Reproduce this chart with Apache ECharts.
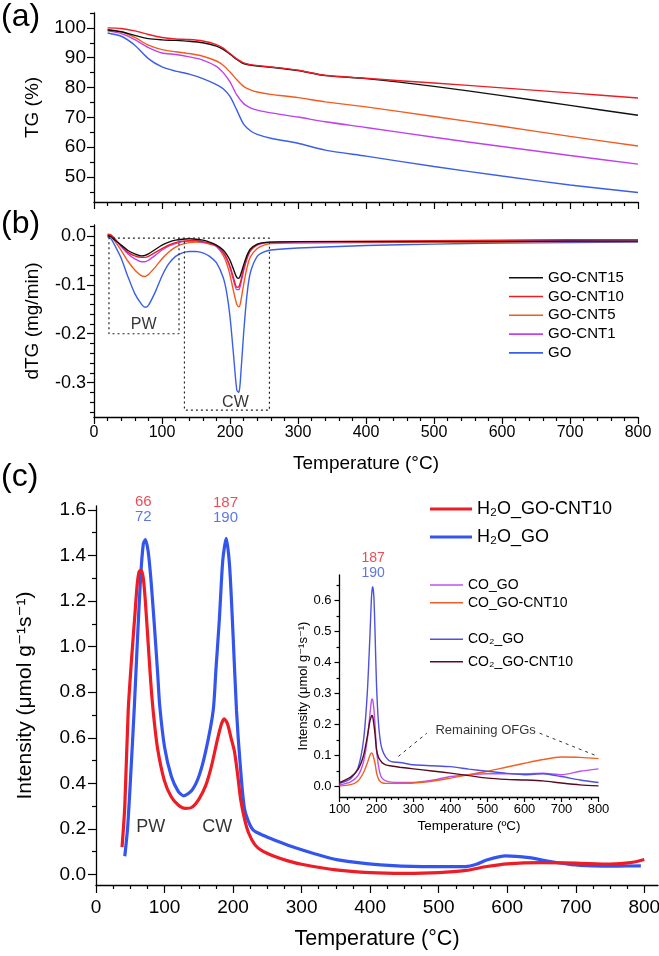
<!DOCTYPE html>
<html><head><meta charset="utf-8">
<script src="https://cdn.jsdelivr.net/npm/echarts@6/dist/echarts.min.js"></script>
<style>html,body{margin:0;padding:0;background:#fff}#c{width:659px;height:956px}</style>
</head><body><div id="c"></div><script>
const FONT = "'Liberation Sans', Arial, 'DejaVu Sans', sans-serif";

// ---------- Panel (a): TG (%) ----------
const tgT      = [20,40,60,80,100,120,140,160,180,190,200,210,220,230,240,260,300,340,400,500,600,700,800];
const tgCNT15  = [99.3,98.7,97.5,96.4,96.0,95.8,95.5,95.0,93.9,92.8,91.2,89.4,88.0,87.5,87.2,86.8,85.7,84.0,83.0,80.4,77.3,74.0,70.7];
const tgCNT10  = [100,99.8,99.0,97.8,96.8,96.3,96.1,95.6,94.4,93.2,91.4,89.6,88.3,87.7,87.4,86.9,85.8,84.1,83.1,81.5,79.9,78.2,76.5];
const tgCNT5   = [99.5,98.7,96.8,94.2,92.7,92.0,91.4,90.5,88.9,87.5,85.2,82.6,80.4,79.2,78.5,77.7,76.6,75.2,73.5,70.3,67.0,63.6,60.4];
const tgCNT1   = [99.0,98.1,96.1,93.4,91.6,91.1,90.3,89.2,87.1,85.0,81.9,77.5,74.6,73.2,72.4,71.5,70.1,68.5,66.6,63.3,60.2,57.2,54.3];
const tgGO     = [98.3,97.2,94.2,89.7,86.9,85.5,84.5,83.0,81.0,79.6,77.0,72.4,67.7,65.5,64.3,63.0,61.3,59.0,57.0,53.5,50.3,47.3,44.8];
const tgTicks  = [50,60,70,80,90,100];
const tgMinor  = [45,55,65,75,85,95,105];

// ---------- Panel (b): dTG (mg/min) ----------
const dtgT     = [20,25,30,40,50,60,70,75,80,90,100,110,120,130,140,150,160,170,180,190,195,200,205,210,213,215,220,225,230,240,250,260,300,400,500,600,700,800];
const dtgCNT15 = [0.0,-0.002,-0.008,-0.019,-0.03,-0.037,-0.041,-0.04,-0.037,-0.028,-0.019,-0.013,-0.009,-0.007,-0.006,-0.007,-0.009,-0.013,-0.019,-0.029,-0.038,-0.05,-0.068,-0.085,-0.087,-0.082,-0.06,-0.04,-0.027,-0.017,-0.014,-0.013,-0.012,-0.012,-0.012,-0.012,-0.011,-0.011];
const dtgCNT10 = [0.003,0.002,-0.005,-0.021,-0.034,-0.041,-0.044,-0.044,-0.042,-0.034,-0.026,-0.019,-0.014,-0.011,-0.01,-0.01,-0.012,-0.015,-0.02,-0.033,-0.045,-0.062,-0.085,-0.105,-0.104,-0.097,-0.068,-0.045,-0.03,-0.018,-0.014,-0.013,-0.012,-0.011,-0.01,-0.009,-0.008,-0.008];
const dtgCNT5  = [0.0,-0.002,-0.01,-0.03,-0.052,-0.07,-0.082,-0.083,-0.079,-0.064,-0.047,-0.033,-0.023,-0.017,-0.014,-0.013,-0.014,-0.017,-0.022,-0.04,-0.056,-0.08,-0.112,-0.14,-0.145,-0.14,-0.1,-0.065,-0.043,-0.026,-0.019,-0.016,-0.015,-0.014,-0.013,-0.013,-0.012,-0.012];
const dtgCNT1  = [0.001,0.0,-0.006,-0.022,-0.037,-0.047,-0.053,-0.053,-0.05,-0.04,-0.029,-0.021,-0.016,-0.012,-0.011,-0.011,-0.013,-0.016,-0.021,-0.036,-0.048,-0.066,-0.09,-0.11,-0.11,-0.103,-0.072,-0.047,-0.03,-0.019,-0.015,-0.014,-0.013,-0.012,-0.011,-0.01,-0.009,-0.008];
const dtgGO    = [-0.002,-0.006,-0.018,-0.046,-0.084,-0.118,-0.14,-0.146,-0.142,-0.115,-0.082,-0.057,-0.042,-0.035,-0.032,-0.032,-0.035,-0.042,-0.055,-0.085,-0.115,-0.165,-0.24,-0.315,-0.32,-0.3,-0.2,-0.12,-0.075,-0.042,-0.033,-0.029,-0.025,-0.02,-0.017,-0.015,-0.014,-0.013];
const dtgTicks = [-0.3,-0.2,-0.1,0.0];
const dtgMinor = [-0.36,-0.34,-0.32,-0.28,-0.26,-0.24,-0.22,-0.18,-0.16,-0.14,-0.12,-0.08,-0.06,-0.04,-0.02,0.02];
// dotted boxes (PW, CW) as one polyline [T, dTG]
const boxPath  = [[125,-0.005],[125,-0.2],[22,-0.2],[22,-0.005],[258,-0.005],[258,-0.356],[133,-0.356],[133,-0.005]];
const bLabels  = [[73,-0.181,'PW'],[208,-0.341,'CW']];

// ---------- Panel (c): H2O intensity ----------
const h2oCntT  = [38,42,47,52,57,60,63,66,69,72,76,80,84,90,100,110,120,130,140,150,160,168,177,183,187,192,197,202,207,211,217,223,232,242,260,280,300,350,400,450,500,540,570,600,650,700,750,780,800];
const h2oCntV  = [0.12,0.3,0.72,0.95,1.15,1.27,1.33,1.336,1.3,1.2,1.02,0.84,0.7,0.55,0.41,0.34,0.305,0.29,0.295,0.33,0.39,0.47,0.59,0.66,0.683,0.66,0.6,0.54,0.43,0.33,0.24,0.18,0.13,0.105,0.08,0.06,0.045,0.02,0.008,0.005,0.008,0.018,0.035,0.047,0.052,0.05,0.046,0.052,0.066];
const h2oGoT   = [42,46,50,56,60,65,69,72,76,80,85,90,93,100,110,120,128,140,150,160,171,175,180,185,190,195,200,205,210,217,229,248,266,291,320,353,415,477,539,555,570,598,632,663,694,725,760,795];
const h2oGoV   = [0.08,0.2,0.4,0.74,1.0,1.3,1.45,1.47,1.42,1.3,1.1,0.88,0.74,0.56,0.43,0.365,0.345,0.37,0.43,0.54,0.72,0.9,1.12,1.38,1.475,1.35,1.05,0.72,0.5,0.284,0.196,0.167,0.145,0.117,0.09,0.064,0.042,0.035,0.035,0.045,0.064,0.082,0.074,0.057,0.043,0.038,0.037,0.038];
const cXTicks  = [0,100,200,300,400,500,600,700,800];
const cXMinor  = [25,50,75,125,150,175,225,250,275,325,350,375,425,450,475,525,550,575,625,650,675,725,750,775];
const cYTicks  = [0,0.2,0.4,0.6,0.8,1.0,1.2,1.4,1.6];
const cYMinor  = [0.1,0.3,0.5,0.7,0.9,1.1,1.3,1.5];
const cRedLabels  = [[69,1.636,'66'],[189,1.632,'187']];
const cBlueLabels = [[69,1.571,'72'],[189,1.563,'190']];
const cLabels  = [[80,0.21,'PW'],[177,0.21,'CW']];

// ---------- Inset: CO / CO2 ----------
const insT      = [100,130,150,165,175,182,186,188,190,193,196,200,205,210,215,225,240,263,300,350,400,450,500,550,600,650,700,750,800];
const coGO      = [0.005,0.015,0.035,0.08,0.15,0.23,0.275,0.283,0.278,0.25,0.2,0.12,0.07,0.04,0.027,0.018,0.014,0.013,0.013,0.02,0.032,0.038,0.041,0.041,0.041,0.043,0.038,0.049,0.057];
const coCNT10   = [0.002,0.006,0.018,0.045,0.075,0.1,0.108,0.107,0.103,0.09,0.075,0.045,0.025,0.016,0.012,0.01,0.01,0.01,0.011,0.017,0.027,0.038,0.049,0.062,0.075,0.087,0.095,0.094,0.09];
const co2GO     = [0.01,0.025,0.06,0.15,0.3,0.48,0.6,0.635,0.645,0.61,0.5,0.33,0.21,0.15,0.12,0.095,0.08,0.0775,0.07,0.067,0.064,0.056,0.049,0.043,0.038,0.041,0.032,0.021,0.013];
const co2CNT10  = [0.012,0.03,0.055,0.1,0.16,0.21,0.226,0.229,0.225,0.2,0.17,0.12,0.095,0.085,0.077,0.07,0.066,0.062,0.057,0.05,0.043,0.035,0.027,0.023,0.021,0.018,0.011,0.005,0.002];
const insYTicks = [0,0.1,0.2,0.3,0.4,0.5,0.6];
const insYMinor = [0.05,0.15,0.25,0.35,0.45,0.55,0.65];
const insRedLabels  = [[191,0.739,'187']];
const insBlueLabels = [[191,0.69,'190']];
const ofgLines  = [[259,0.097],[336,0.172],null,[641,0.172],[799,0.097]];
const ofgLabel  = [[495,0.18,'Remaining OFGs']];

// ---------- helpers ----------
const pairs = (xs, ys) => xs.map((x, i) => [x, ys[i]]);
const BLACK = '#000';
const axLine = {show:true, onZero:false, lineStyle:{color:BLACK, width:1.3}};
const tickLS = {color:BLACK, width:1.2};
const noSplit = {show:false};

function line(name, xi, yi, data, color, width, extra) {
  return Object.assign({
    type:'line', name, xAxisIndex:xi, yAxisIndex:yi, data, symbol:'none', showSymbol:false,
    smooth:0.25, lineStyle:{color, width}, itemStyle:{color},
    animation:false, silent:true, z:3
  }, extra || {});
}
function textPts(xi, yi, data, color, size) {
  return {
    type:'scatter', xAxisIndex:xi, yAxisIndex:yi, data, symbolSize:1, clip:false,
    itemStyle:{color:'rgba(0,0,0,0)'}, silent:true, animation:false, z:5,
    label:{show:true, position:'inside', formatter:p => p.data[2], color, fontSize:size, fontFamily:FONT}
  };
}
function minorAxis(gi, min, max, vals, len, pos) {
  return {type:'value', gridIndex:gi, min, max, position:pos, offset:0,
    axisLine:{show:false, onZero:false}, axisLabel:{show:false}, splitLine:noSplit,
    axisTick:{show:true, length:len, customValues:vals, lineStyle:tickLS}};
}
function leg(names, left, top, w, h, fs, lh, gap, vertical) {
  return {data:names, orient: vertical ? 'vertical' : 'horizontal', left, top, padding:0,
    icon:'rect', itemWidth:w, itemHeight:h, itemGap:gap, selectedMode:false,
    textStyle:{fontSize:fs, lineHeight:lh, color:BLACK, fontFamily:FONT}};
}
const TITLE_TS = {fontSize:32, fontWeight:'normal', color:BLACK, fontFamily:FONT};

const option = {
  backgroundColor:'#fff',
  animation:false,
  textStyle:{fontFamily:FONT},
  title:[
    {text:'(a)', left:1, top:1, padding:0, textStyle:TITLE_TS},
    {text:'(b)', left:1, top:208, padding:0, textStyle:TITLE_TS},
    {text:'(c)', left:1, top:461, padding:0, textStyle:TITLE_TS}
  ],
  grid:[
    {left:94, top:13, width:544, height:189, outerBoundsMode:'none', containLabel:false},
    {left:94, top:225, width:544, height:192, outerBoundsMode:'none', containLabel:false},
    {left:96, top:506, width:562, height:379, outerBoundsMode:'none', containLabel:false},
    {left:339.5, top:575, width:259, height:222, outerBoundsMode:'none', containLabel:false}
  ],
  legend:[
    leg(['GO-CNT15','GO-CNT10','GO-CNT5','GO-CNT1','GO'], 509, 270.2, 34, 1.6, 15, 15, 3.8, true),
    leg(['H₂O_GO-CNT10'], 430, 499, 42, 3, 18, 20, 0, false),
    leg(['H₂O_GO'], 430, 527, 42, 3, 18, 20, 0, false),
    leg(['CO_GO'], 430, 577, 33, 1.6, 14, 16, 0, false),
    leg(['CO_GO-CNT10'], 430, 594.7, 33, 1.6, 14, 16, 0, false),
    leg(['CO₂_GO'], 430, 631.3, 33, 1.6, 14, 16, 0, false),
    leg(['CO₂_GO-CNT10'], 430, 653.7, 33, 1.6, 14, 16, 0, false)
  ],
  xAxis:[
    // 0: panel a
    {type:'value', gridIndex:0, min:0, max:800, interval:100, position:'bottom', axisLine:axLine,
     axisTick:{show:true, length:7, lineStyle:tickLS}, minorTick:{show:true, splitNumber:5, length:4, lineStyle:tickLS},
     axisLabel:{show:false}, splitLine:noSplit, minorSplitLine:noSplit},
    // 1: panel b
    {type:'value', gridIndex:1, min:0, max:800, interval:100, position:'bottom', axisLine:axLine,
     axisTick:{show:true, length:7, lineStyle:tickLS}, minorTick:{show:true, splitNumber:5, length:4, lineStyle:tickLS},
     axisLabel:{show:true, margin:8, fontSize:16, color:BLACK, fontFamily:FONT}, splitLine:noSplit, minorSplitLine:noSplit,
     name:'Temperature (°C)', nameLocation:'middle', nameGap:37, nameTextStyle:{fontSize:19, color:BLACK, fontFamily:FONT}},
    // 2: panel c
    {type:'value', gridIndex:2, min:0, max:820, position:'bottom', axisLine:axLine,
     axisTick:{show:true, length:8, customValues:cXTicks, lineStyle:tickLS},
     axisLabel:{show:true, margin:13, fontSize:19, color:BLACK, fontFamily:FONT, customValues:cXTicks}, splitLine:noSplit,
     name:'Temperature (°C)', nameLocation:'middle', nameGap:43, nameTextStyle:{fontSize:21.5, color:BLACK, fontFamily:FONT}},
    // 3: panel c minor ticks
    minorAxis(2, 0, 820, cXMinor, 4, 'bottom'),
    // 4: inset
    {type:'value', gridIndex:3, min:100, max:800, interval:100, position:'bottom', axisLine:axLine,
     axisTick:{show:true, length:5, lineStyle:tickLS}, minorTick:{show:true, splitNumber:5, length:3, lineStyle:tickLS},
     axisLabel:{show:true, margin:6, fontSize:13, color:BLACK, fontFamily:FONT}, splitLine:noSplit, minorSplitLine:noSplit,
     name:'Temperature (ºC)', nameLocation:'middle', nameGap:22, nameTextStyle:{fontSize:13.5, color:BLACK, fontFamily:FONT}}
  ],
  yAxis:[
    // 0: panel a
    {type:'value', gridIndex:0, min:41.6, max:105, position:'left', axisLine:axLine,
     axisTick:{show:true, length:7, customValues:tgTicks, lineStyle:tickLS},
     axisLabel:{show:true, margin:8, fontSize:19, color:BLACK, fontFamily:FONT, customValues:tgTicks}, splitLine:noSplit,
     name:'TG (%)', nameLocation:'middle', nameGap:52, nameTextStyle:{fontSize:19, color:BLACK, fontFamily:FONT}},
    // 1: panel a minor
    minorAxis(0, 41.6, 105, tgMinor, 4, 'left'),
    // 2: panel b
    {type:'value', gridIndex:1, min:-0.37, max:0.022, position:'left', axisLine:axLine,
     axisTick:{show:true, length:7, customValues:dtgTicks, lineStyle:tickLS},
     axisLabel:{show:true, margin:8, fontSize:18, color:BLACK, fontFamily:FONT, customValues:dtgTicks, formatter:v => v.toFixed(1)}, splitLine:noSplit,
     name:'dTG (mg/min)', nameLocation:'middle', nameGap:52, nameTextStyle:{fontSize:19, color:BLACK, fontFamily:FONT}},
    // 3: panel b minor
    minorAxis(1, -0.37, 0.022, dtgMinor, 4, 'left'),
    // 4: panel c
    {type:'value', gridIndex:2, min:-0.046, max:1.617, position:'left', axisLine:axLine,
     axisTick:{show:true, length:8, customValues:cYTicks, lineStyle:tickLS},
     axisLabel:{show:true, margin:10, fontSize:19, color:BLACK, fontFamily:FONT, customValues:cYTicks, formatter:v => v.toFixed(1)}, splitLine:noSplit,
     name:'Intensity (μmol g⁻¹s⁻¹)', nameLocation:'middle', nameGap:60, nameTextStyle:{fontSize:21, color:BLACK, fontFamily:FONT}},
    // 5: panel c minor
    minorAxis(2, -0.046, 1.617, cYMinor, 4, 'left'),
    // 6: inset
    {type:'value', gridIndex:3, min:-0.034, max:0.683, position:'left', axisLine:axLine,
     axisTick:{show:true, length:5, customValues:insYTicks, lineStyle:tickLS},
     axisLabel:{show:true, margin:8, fontSize:13, color:BLACK, fontFamily:FONT, customValues:insYTicks, formatter:v => v.toFixed(1)}, splitLine:noSplit,
     name:'Intensity (μmol g⁻¹s⁻¹)', nameLocation:'middle', nameGap:30, nameTextStyle:{fontSize:13, color:BLACK, fontFamily:FONT}},
    // 7: inset minor
    minorAxis(3, -0.034, 0.683, insYMinor, 3, 'left')
  ],
  series:[
    // panel a
    line('GO', 0, 0, pairs(tgT, tgGO), '#3b5ee8', 1.4),
    line('GO-CNT1', 0, 0, pairs(tgT, tgCNT1), '#c040f0', 1.4),
    line('GO-CNT5', 0, 0, pairs(tgT, tgCNT5), '#f25a1e', 1.4),
    line('GO-CNT15', 0, 0, pairs(tgT, tgCNT15), '#111111', 1.4),
    line('GO-CNT10', 0, 0, pairs(tgT, tgCNT10), '#ee1c25', 1.4),
    // panel b
    line('GO', 1, 2, pairs(dtgT, dtgGO), '#3b5ee8', 1.4),
    line('GO-CNT5', 1, 2, pairs(dtgT, dtgCNT5), '#f25a1e', 1.4),
    line('GO-CNT1', 1, 2, pairs(dtgT, dtgCNT1), '#c040f0', 1.4),
    line('GO-CNT10', 1, 2, pairs(dtgT, dtgCNT10), '#ee1c25', 1.4),
    line('GO-CNT15', 1, 2, pairs(dtgT, dtgCNT15), '#111111', 1.4),
    line('boxes', 1, 2, boxPath, '#222', 1.2, {smooth:false, lineStyle:{color:'#222', width:1.2, type:[2,3]}}),
    textPts(1, 2, bLabels, BLACK, 16),
    // panel c
    line('H₂O_GO', 2, 4, pairs(h2oGoT, h2oGoV), '#3355ee', 3.2),
    line('H₂O_GO-CNT10', 2, 4, pairs(h2oCntT, h2oCntV), '#ee1c24', 3.2),
    textPts(2, 4, cRedLabels, '#e3202c', 15),
    textPts(2, 4, cBlueLabels, '#3355dd', 15),
    textPts(2, 4, cLabels, BLACK, 18),
    // inset
    line('CO_GO', 4, 6, pairs(insT, coGO), '#c050f0', 1.4),
    line('CO_GO-CNT10', 4, 6, pairs(insT, coCNT10), '#f06020', 1.4),
    line('CO₂_GO', 4, 6, pairs(insT, co2GO), '#5050e0', 1.4),
    line('CO₂_GO-CNT10', 4, 6, pairs(insT, co2CNT10), '#5a0a1e', 1.4),
    line('ofg', 4, 6, ofgLines, '#333', 1, {smooth:false, connectNulls:false, lineStyle:{color:'#333', width:1, type:[3,4]}}),
    textPts(4, 6, ofgLabel, BLACK, 13),
    textPts(4, 6, insRedLabels, '#e3202c', 14),
    textPts(4, 6, insBlueLabels, '#3355dd', 14)
  ]
};
const chart = echarts.init(document.getElementById('c'), null, {renderer:'canvas', width:659, height:956});
chart.setOption(option);
</script></body></html>
